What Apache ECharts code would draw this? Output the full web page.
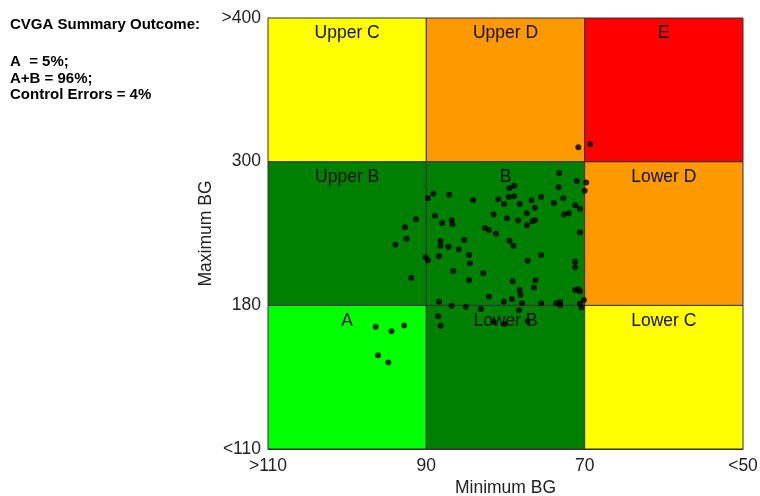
<!DOCTYPE html>
<html>
<head>
<meta charset="utf-8">
<script src="https://cdn.jsdelivr.net/npm/echarts@6/dist/echarts.min.js"></script>
<style>
html,body{margin:0;padding:0;background:#fff;}
#main{width:760px;height:496px;}
</style>
</head>
<body>
<div id="main"></div>
<script>
// CVGA 数据
var xTicks = [110, 90, 70, 50];
var xTickLabels = ['>110', '90', '70', '<50'];
var yBreaks = [110, 180, 300, 400];          // Maximum BG 分区边界
var yTickLabels = ['<110', '180', '300', '>400'];

// 区域 (行: 下->上, 列: 左->右)
var zoneNames = [
	['A', 'Lower B', 'Lower C'],
	['Upper B', 'B', 'Lower D'],
	['Upper C', 'Upper D', 'E']
];
var zoneColors = [
	['#00ff00', '#008000', '#ffff00'],
	['#008000', '#008000', '#ff9900'],
	['#ffff00', '#ff9900', '#ff0000']
];

// 每个病人的最小/最大血糖
var minBG = [96.4, 94.4, 92.8, 96.1, 94.8, 70.8, 69.3, 73.2, 71.0, 69.8,
	73.3, 70.0, 79.5, 78.9, 89.1, 89.8, 87.1, 84.1, 80.9, 79.6,
	78.9, 80.2, 78.2, 76.7, 75.5, 76.3, 73.9, 72.7, 71.2, 70.6,
	72.6, 72.0, 77.3, 81.5, 79.8, 78.4, 76.6, 76.3, 77.3, 82.6,
	82.1, 81.2, 79.5, 79.0, 70.6, 88.9, 88.0, 86.8, 86.7, 85.2,
	88.2, 88.2, 87.2, 85.9, 91.3, 92.7, 92.5, 93.9, 90.1, 89.8,
	88.4, 84.6, 84.5, 86.6, 82.8, 91.9, 84.6, 79.1, 77.2, 75.5,
	71.2, 71.2, 76.2, 76.4, 78.2, 78.1, 79.2, 82.1, 80.2, 88.4,
	86.8, 85.0, 83.1, 77.9, 75.5, 73.6, 73.1, 73.1, 71.2, 70.8,
	70.6, 70.6, 70.4, 70.1, 78.3, 88.5, 88.2, 81.5, 80.1, 77.2];
var maxBG = [169.6, 167.4, 170.2, 155.7, 152.2, 310.0, 312.1, 290.5, 283.8, 282.6,
	278.7, 275.7, 277.8, 279.8, 273.2, 269.5, 272.3, 267.7, 268.6, 270.5,
	271.2, 264.6, 264.6, 267.7, 270.5, 261.5, 265.5, 269.4, 263.6, 260.7,
	255.9, 256.9, 256.9, 255.9, 252.7, 250.9, 250.3, 251.1, 246.9, 244.5,
	242.9, 239.7, 234.0, 229.8, 240.8, 254.8, 248.8, 251.1, 247.8, 234.6,
	233.7, 229.6, 229.0, 226.6, 251.9, 245.2, 235.7, 230.7, 220.1, 217.6,
	221.0, 222.0, 215.1, 208.7, 206.8, 202.8, 200.9, 200.1, 217.3, 222.0,
	216.4, 211.8, 201.0, 194.9, 192.8, 188.6, 185.3, 187.2, 182.9, 183.0,
	179.8, 179.3, 178.2, 181.7, 181.7, 181.7, 182.8, 180.0, 192.8, 193.4,
	191.7, 181.3, 179.0, 184.5, 177.6, 174.7, 170.1, 171.9, 170.9, 172.4];

var summaryTitle = 'CVGA Summary Outcome:';
var summaryLines = ['A  = 5%;', 'A+B = 96%;', 'Control Errors = 4%'];

var font = 'Liberation Sans, Arial, sans-serif';

// Maximum BG -> 分区坐标 (0..3)
var maxToGrid = function(v){
	for(var i=0;i<yBreaks.length-1;i++){
		if(v<=yBreaks[i+1] || i==yBreaks.length-2){
			return i+(v-yBreaks[i])/(yBreaks[i+1]-yBreaks[i]);
		}
	}
}

var points = [];
for(var i=0;i<minBG.length;i++){
	points.push([minBG[i], maxToGrid(maxBG[i])]);
}

var areas = [];
for(var r=0;r<3;r++){
	for(var c=0;c<3;c++){
		areas.push([
			{name: zoneNames[r][c], xAxis: xTicks[c], yAxis: r,
				itemStyle: {color: zoneColors[r][c], borderColor: '#333', borderWidth: 1, opacity: 1}},
			{xAxis: xTicks[c+1], yAxis: r+1}
		]);
	}
}

var dom = document.getElementById('main');
var myChart = echarts.init(dom);
var option = {
	animation: false,
	backgroundColor: '#fff',
	textStyle: {fontFamily: font},
	graphic: [
		{type: 'text', left: 10, top: 17, style: {text: summaryTitle, font: 'bold 15px ' + font, fill: '#000'}},
		{type: 'text', left: 10, top: 54, style: {text: summaryLines.join('\n'), font: 'bold 15px ' + font, fill: '#000', lineHeight: 16.5}}
	],
	grid: {left: 268, right: 17, top: 18, bottom: 47, outerBoundsMode: 'none', containLabel: false},
	xAxis: {
		type: 'value', min: 50, max: 110, interval: 20, inverse: true,
		name: 'Minimum BG', nameLocation: 'middle', nameGap: 30, nameMoveOverlap: false,
		nameTextStyle: {fontSize: 17.5, color: '#222', fontFamily: font},
		splitLine: {show: false},
		axisTick: {show: false},
		axisLine: {lineStyle: {color: '#333'}},
		axisLabel: {
			fontSize: 17.5, color: '#222', margin: 8, fontFamily: font,
			formatter: function(v){ return xTickLabels[xTicks.indexOf(v)]; }
		}
	},
	yAxis: {
		type: 'value', min: 0, max: 3, interval: 1,
		name: 'Maximum BG', nameLocation: 'middle', nameGap: 53, nameRotate: 90, nameMoveOverlap: false,
		nameTextStyle: {fontSize: 17.5, color: '#222', fontFamily: font},
		splitLine: {show: false},
		axisTick: {show: false},
		axisLine: {lineStyle: {color: '#333'}},
		axisLabel: {
			fontSize: 17.5, color: '#222', margin: 7, fontFamily: font,
			formatter: function(v){ return yTickLabels[v]; }
		}
	},
	series: [
		{
			type: 'scatter', data: [], z: 1,
			markArea: {
				silent: true,
				label: {show: true, position: 'insideTop', distance: 7, color: '#111', fontSize: 17.5, fontFamily: font},
				data: areas
			}
		},
		{
			type: 'scatter', z: 5,
			symbol: 'circle', symbolSize: 6,
			itemStyle: {color: '#000'},
			data: points
		}
	]
};
if(option && typeof option === "object") {
	myChart.setOption(option, true);
}
</script>
</body>
</html>
